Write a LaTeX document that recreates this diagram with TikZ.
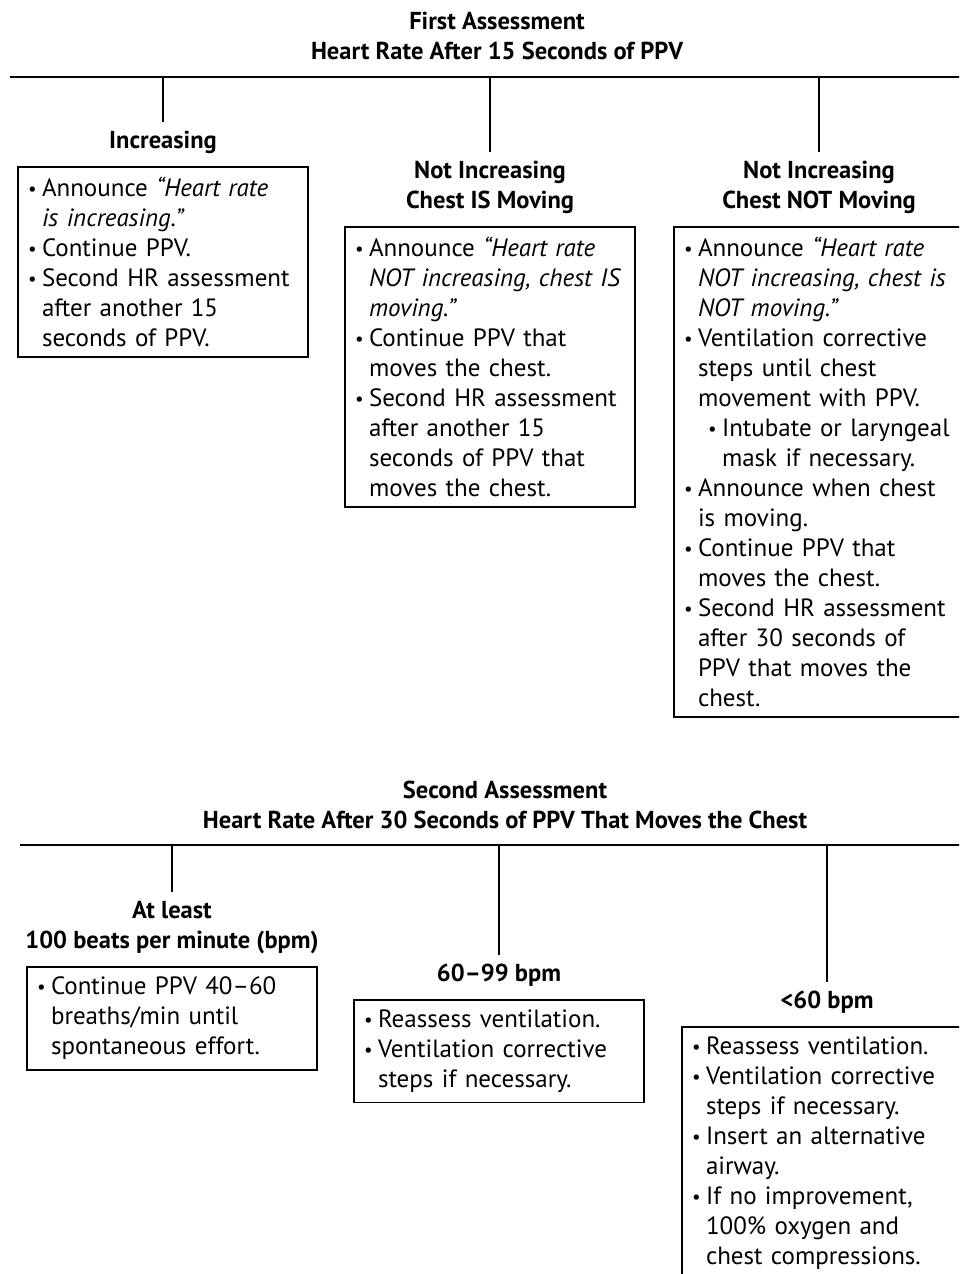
\documentclass[tikz,border=0pt]{standalone}
\usepackage{fontspec}
\setmainfont{PT Sans}
\usetikzlibrary{positioning}

\newcommand{\bul}{\makebox[14pt][l]{\raisebox{1pt}{\fontsize{19}{19}\selectfont\textbullet}}}
\newcommand{\hang}{\hspace*{14pt}}

\begin{document}
\begin{tikzpicture}[x=1pt,y=-1pt,
    box/.style={draw,line width=1.8pt,text width=270pt,align=left,inner xsep=10pt,inner ysep=10pt,font=\fontsize{25}{30}\selectfont},
    head/.style={anchor=north,align=center,inner xsep=2pt,inner ysep=9pt,font=\bfseries\fontsize{24.5}{30}\selectfont},
    bar/.style={line width=2.6pt},
    drop/.style={line width=2pt}]
  \useasboundingbox (0,0) rectangle (959,1274);
  \clip (0,0) rectangle (959,1274);

  % first assessment
  \node[head,anchor=center] (t1) at (497,36) {First Assessment\\Heart Rate After 15 Seconds of PPV};
  \coordinate (bl1) at (10,77);
  \coordinate (br1) at (975,77);
  \draw[bar] (bl1) -- (br1);

  \coordinate (b1) at (163,77);
  \coordinate (b2) at (490,77);
  \coordinate (b3) at (819,77);

  \node[head] (lab1) at (163,122) {Increasing};
  \node[head] (lab2) at (490,152) {Not Increasing\\Chest IS Moving};
  \node[head] (lab3) at (819,152) {Not Increasing\\Chest NOT Moving};

  \draw[drop] (b1) -- (lab1);
  \draw[drop] (b2) -- (lab2);
  \draw[drop] (b3) -- (lab3);

  \node[box,below=3pt of lab1] (box1) {\bul Announce \textit{“Heart rate}\\
    \hang\textit{is increasing.”}\\
    \bul Continue PPV.\\
    \bul Second HR assessment\\
    \hang after another 15\\
    \hang seconds of PPV.};
  \node[box,below=3pt of lab2] (box2) {\bul Announce \textit{“Heart rate}\\
    \hang\textit{NOT increasing, chest IS}\\
    \hang\textit{moving.”}\\
    \bul Continue PPV that\\
    \hang moves the chest.\\
    \bul Second HR assessment\\
    \hang after another 15\\
    \hang seconds of PPV that\\
    \hang moves the chest.};
  \node[box,below=3pt of lab3] (box3) {\bul Announce \textit{“Heart rate}\\
    \hang\textit{NOT increasing, chest is}\\
    \hang\textit{NOT moving.”}\\
    \bul Ventilation corrective\\
    \hang steps until chest\\
    \hang movement with PPV.\\
    \mbox{\hspace*{24pt}\bul Intubate or laryngeal}\\
    \hspace*{38pt}mask if necessary.\\
    \bul Announce when chest\\
    \hang is moving.\\
    \bul Continue PPV that\\
    \hang moves the chest.\\
    \bul Second HR assessment\\
    \hang after 30 seconds of\\
    \hang PPV that moves the\\
    \hang chest.};

  % second assessment
  \node[head,anchor=center] (t2) at (505,805) {Second Assessment\\Heart Rate After 30 Seconds of PPV That Moves the Chest};
  \coordinate (bl2) at (20,845);
  \coordinate (br2) at (975,845);
  \draw[bar] (bl2) -- (br2);

  \coordinate (b4) at (172,845);
  \coordinate (b5) at (499,845);
  \coordinate (b6) at (827,845);

  \node[head] (lab4) at (172,892) {At least\\100 beats per minute (bpm)};
  \node[head] (lab5) at (499,955) {60--99 bpm};
  \node[head] (lab6) at (827,982) {<60 bpm};

  \draw[drop] (b4) -- (lab4);
  \draw[drop] (b5) -- (lab5);
  \draw[drop] (b6) -- (lab6);

  \node[box,below=3pt of lab4] (box4) {\bul Continue PPV 40--60\\
    \hang breaths/min until\\
    \hang spontaneous effort.};
  \node[box,below=3pt of lab5] (box5) {\bul Reassess ventilation.\\
    \bul Ventilation corrective\\
    \hang steps if necessary.};
  \node[box,below=3pt of lab6] (box6) {\bul Reassess ventilation.\\
    \bul Ventilation corrective\\
    \hang steps if necessary.\\
    \bul Insert an alternative\\
    \hang airway.\\
    \bul If no improvement,\\
    \hang 100\% oxygen and\\
    \hang chest compressions.\\
    \mbox{}};
\end{tikzpicture}
\end{document}
